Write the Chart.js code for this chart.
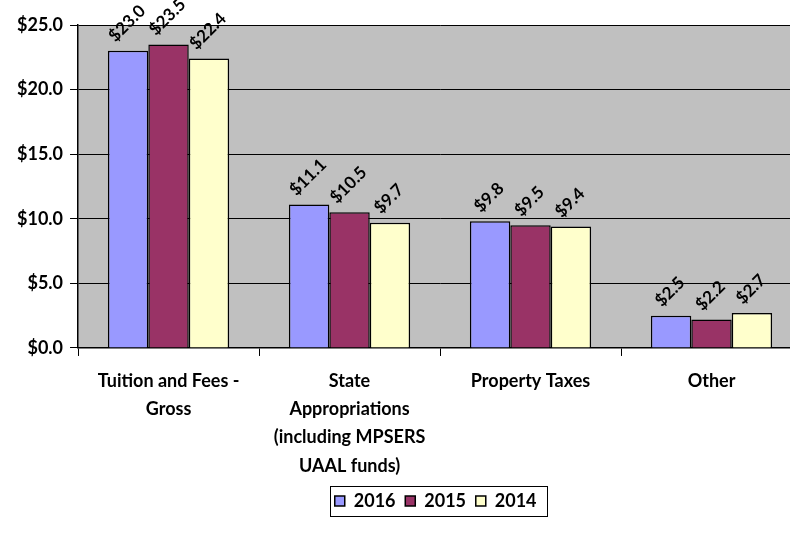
<!DOCTYPE html>
<html>
<head>
<meta charset="utf-8">
<script src="https://cdn.jsdelivr.net/npm/chart.js@4"></script>
<style>
  html, body { margin: 0; padding: 0; background: #fff; overflow: hidden; }
  #wrap { width: 806px; height: 535px; }
</style>
</head>
<body>
<div id="wrap"><canvas id="chart"></canvas></div>
<script>
const categories = [
    ["Tuition and Fees -", "Gross"],
    ["State", "Appropriations", "(including MPSERS", "UAAL funds)"],
    "Property Taxes",
    "Other",
];

const values2016 = [23.0, 11.1, 9.8, 2.5];
const values2015 = [23.5, 10.5, 9.5, 2.2];
const values2014 = [22.4, 9.7, 9.4, 2.7];

const seriesNames = ["2016", "2015", "2014"];
const seriesColors = ["#9999FF", "#993366", "#FFFFCC"];

const fontFamily = "Lato, 'Open Sans', sans-serif";

// grey plot background
const plotBackground = {
    id: "plotBackground",
    beforeDraw(chart) {
        const { ctx, chartArea } = chart;
        ctx.save();
        ctx.fillStyle = "#C0C0C0";
        ctx.fillRect(chartArea.left, chartArea.top, chartArea.right - chartArea.left, chartArea.bottom - chartArea.top);
        ctx.restore();
    },
};

// rotated value labels above each bar
const valueLabels = {
    id: "valueLabels",
    afterDatasetsDraw(chart) {
        const ctx = chart.ctx;
        ctx.save();
        ctx.font = "bold 17px " + fontFamily;
        ctx.fillStyle = "#000";
        ctx.textAlign = "center";
        ctx.textBaseline = "middle";
        chart.data.datasets.forEach((ds, i) => {
            const meta = chart.getDatasetMeta(i);
            meta.data.forEach((bar, j) => {
                const text = "$" + ds.data[j].toFixed(1);
                const w = ctx.measureText(text).width;
                const h = (w + 14) * Math.SQRT1_2;
                ctx.save();
                ctx.translate(bar.x - 1, bar.y - 7 - h / 2);
                ctx.rotate(-Math.PI / 4);
                ctx.fillText(text, 0, 0);
                ctx.restore();
            });
        });
        ctx.restore();
    },
};

// box around the legend
const legendBox = {
    id: "legendBox",
    afterDraw(chart) {
        const boxes = chart.legend.legendHitBoxes;
        if (!boxes || !boxes.length) return;
        let x0 = Infinity, x1 = -Infinity, y0 = Infinity, y1 = -Infinity;
        boxes.forEach(b => {
            x0 = Math.min(x0, b.left);
            x1 = Math.max(x1, b.left + b.width);
            y0 = Math.min(y0, b.top);
            y1 = Math.max(y1, b.top + b.height);
        });
        const ctx = chart.ctx;
        ctx.save();
        ctx.strokeStyle = "#000";
        ctx.lineWidth = 1;
        const top = Math.round((y0 + y1) / 2 - 15) + 0.5;
        ctx.strokeRect(Math.round(x0 - 5) + 0.5, top, Math.round(x1 - x0 + 6), 30);
        ctx.restore();
    },
};

const allValues = [values2016, values2015, values2014];

new Chart(document.getElementById("chart"), {
    type: "bar",
    plugins: [plotBackground, valueLabels, legendBox],
    data: {
        labels: categories,
        datasets: allValues.map((vals, i) => ({
            label: seriesNames[i],
            data: vals,
            backgroundColor: seriesColors[i],
            borderColor: "#000",
            borderWidth: 1.5,
            categoryPercentage: 0.67,
            barPercentage: 1.0,
        })),
    },
    options: {
        responsive: true,
        maintainAspectRatio: false,
        animation: false,
        layout: { padding: { top: 25, left: 10, right: 4, bottom: 15 } },
        plugins: {
            tooltip: { enabled: false },
            legend: {
                position: "bottom",
                fullSize: false,
                labels: {
                    boxWidth: 10,
                    boxHeight: 10,
                    padding: 1,
                    color: "#000",
                    font: { family: fontFamily, size: 18, weight: "bold" },
                    generateLabels: chart => Chart.defaults.plugins.legend.labels.generateLabels(chart)
                        .map(item => Object.assign(item, { text: item.text + "  " })),
                },
            },
        },
        scales: {
            x: {
                grid: {
                    display: true,
                    drawOnChartArea: false,
                    drawTicks: true,
                    tickLength: 8,
                    color: "#000",
                },
                border: { display: true, color: "#000", width: 1.5 },
                ticks: {
                    color: "#000",
                    padding: 11,
                    maxRotation: 0,
                    autoSkip: false,
                    font: { family: fontFamily, size: 18, weight: "bold", lineHeight: 1.57 },
                },
            },
            y: {
                min: 0,
                max: 25,
                grid: {
                    color: "#000",
                    lineWidth: 1,
                    tickLength: 8,
                },
                border: { display: true, color: "#000", width: 1.5 },
                ticks: {
                    stepSize: 5,
                    color: "#000",
                    padding: 7,
                    font: { family: fontFamily, size: 18, weight: "bold" },
                    callback: v => "$" + v.toFixed(1),
                },
            },
        },
    },
});
</script>
</body>
</html>
